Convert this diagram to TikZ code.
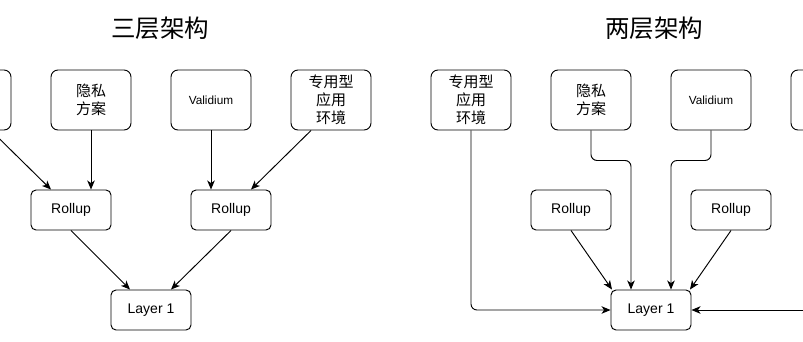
\documentclass[tikz,border=0pt]{standalone}
\usepackage{fontspec}
\setmainfont{Liberation Sans}
\newfontfamily\cjk{Noto Sans CJK SC}
\usetikzlibrary{arrows.meta}
\begin{document}
\begin{tikzpicture}[x=1pt,y=-1pt, line width=0.95pt,
 topbox/.style={draw, rounded corners=7pt, minimum width=80pt, minimum height=60pt, inner sep=0pt, align=center, font=\cjk\fontsize{15}{17.8}\selectfont},
 latinbox/.style={topbox, font=\fontsize{11.8}{14}\selectfont},
 midbox/.style={draw, rounded corners=5pt, minimum width=80pt, minimum height=40pt, inner sep=0pt, font=\fontsize{14}{16}\selectfont},
 arr/.style={-{Stealth[length=9pt,width=7.5pt,inset=2.5pt]}},
 titletext/.style={font=\cjk\fontsize{24.5}{28}\selectfont}]
\useasboundingbox (0,0) rectangle (803,341);
\clip (0,0) rectangle (803,341);
% titles
\node[titletext] (t1) at (160,28) {三层架构};
\node[titletext] (t2) at (654,28) {两层架构};
% left: three layers
\node[topbox] (A0) at (-29,100) {};
\node[topbox] (A1) at (91,100) {隐私\\方案};
\node[latinbox] (A2) at (211,100) {Validium};
\node[topbox] (A3) at (331,100) {专用型\\应用\\环境};
\node[midbox] (R1) at (71,210) {Rollup};
\node[midbox] (R2) at (231,210) {Rollup};
\node[midbox] (L1) at (151,310) {Layer 1};
\draw[arr] ([xshift=20pt]A0.south) -- ([xshift=-20pt]R1.north);
\draw[arr] (A1.south) -- ([xshift=20pt]R1.north);
\draw[arr] (A2.south) -- ([xshift=-20pt]R2.north);
\draw[arr] ([xshift=-20pt]A3.south) -- ([xshift=20pt]R2.north);
\draw[arr] (R1.south) -- ([xshift=-21pt]L1.north);
\draw[arr] (R2.south) -- ([xshift=20pt]L1.north);
% right: two layers
\node[topbox] (B1) at (471,100) {专用型\\应用\\环境};
\node[topbox] (B2) at (591,100) {隐私\\方案};
\node[latinbox] (B3) at (711,100) {Validium};
\node[topbox] (B4) at (831,100) {};
\node[midbox] (R3) at (571,210) {Rollup};
\node[midbox] (R4) at (731,210) {Rollup};
\node[midbox] (L2) at (651,310) {Layer 1};
\coordinate (E) at (815,310);
\draw[arr, rounded corners=6pt] (B1.south) |- (L2.west);
\draw[arr, rounded corners=6pt] (B2.south) -- ++(0,30) -| ([xshift=-20pt]L2.north);
\draw[arr, rounded corners=6pt] (B3.south) -- ++(0,30) -| ([xshift=20pt]L2.north);
\draw[arr] (R3.south) -- ([xshift=-39pt]L2.north);
\draw[arr] (R4.south) -- ([xshift=39pt]L2.north);
\draw[arr] (E) -- (L2.east);
\end{tikzpicture}
\end{document}
